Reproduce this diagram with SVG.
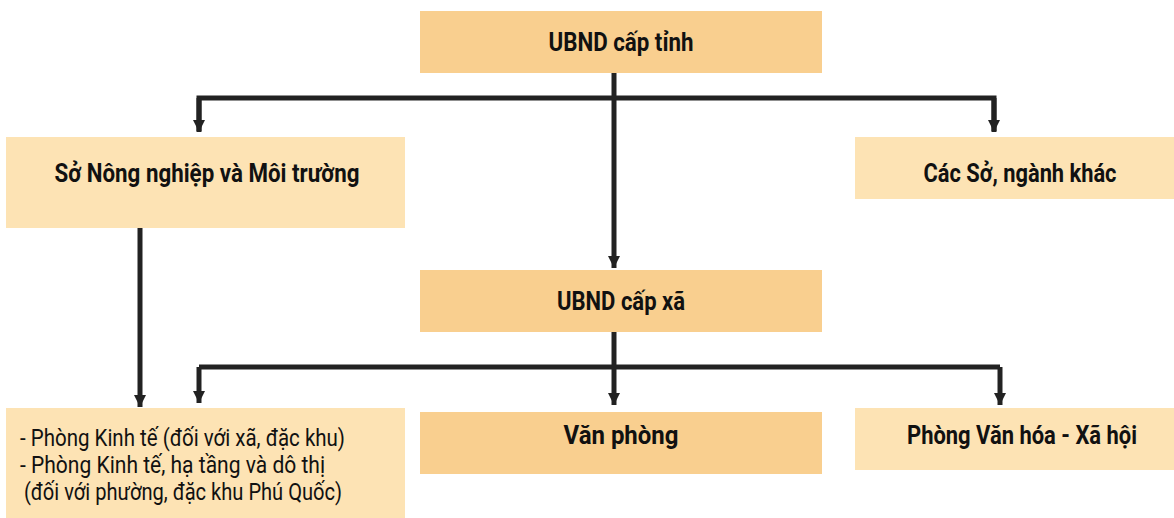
<svg xmlns="http://www.w3.org/2000/svg" width="1174" height="518" viewBox="0 0 1174 518">
<style>
.dark{fill:#F9CF8F}
.light{fill:#FDE3B4}
.t{font-family:"Roboto","Liberation Sans",sans-serif;font-weight:bold;font-size:25px;fill:#111;text-anchor:middle}
.r{font-family:"Roboto","Liberation Sans",sans-serif;font-size:24px;fill:#111}
.ln{stroke:#222;stroke-width:5;fill:none}
</style>
<defs>
<marker id="ah" viewBox="0 0 10 10" refX="10" refY="5" markerWidth="2.4" markerHeight="2.4" orient="auto" markerUnits="strokeWidth">
<path d="M0,0 L10,5 L0,10 Z" fill="#222"/>
</marker>
</defs>
<rect width="1174" height="518" fill="#fff"/>
<g id="connectors">
<path class="ln" d="M614,73 V268" marker-end="url(#ah)"/>
<path class="ln" d="M199,131 V98 H994 V131" />
<path class="ln" d="M199,98 V132" marker-end="url(#ah)"/>
<path class="ln" d="M994,98 V132" marker-end="url(#ah)"/>
<path class="ln" d="M199,367 H1000"/>
<path class="ln" d="M614,332 V405" marker-end="url(#ah)"/>
<path class="ln" d="M199,367 V403" marker-end="url(#ah)"/>
<path class="ln" d="M1000,367 V405" marker-end="url(#ah)"/>
<path class="ln" d="M140,228 V407" marker-end="url(#ah)"/>
</g>
<g id="n1"><rect class="dark" x="420" y="11" width="402" height="62"/><text class="t" x="621" y="51" textLength="145" lengthAdjust="spacingAndGlyphs">UBND cấp tỉnh</text></g>
<g id="n2"><rect class="light" x="6" y="137" width="399" height="91"/><text class="t" x="207" y="182" textLength="305" lengthAdjust="spacingAndGlyphs">Sở Nông nghiệp và Môi trường</text></g>
<g id="n3"><rect class="light" x="855" y="137" width="319" height="62"/><text class="t" x="1020" y="182" textLength="193" lengthAdjust="spacingAndGlyphs">Các Sở, ngành khác</text></g>
<g id="n4"><rect class="dark" x="420" y="270" width="402" height="62"/><text class="t" x="621" y="310" textLength="128" lengthAdjust="spacingAndGlyphs">UBND cấp xã</text></g>
<g id="n5"><rect class="light" x="6" y="408" width="399" height="110"/>
<text class="r" x="20" y="446" textLength="325" lengthAdjust="spacingAndGlyphs">- Phòng Kinh tế (đối với xã, đặc khu)</text>
<text class="r" x="20" y="473" textLength="305" lengthAdjust="spacingAndGlyphs">- Phòng Kinh tế, hạ tầng và dô thị</text>
<text class="r" x="24" y="500" textLength="318" lengthAdjust="spacingAndGlyphs">(đối với phường, đặc khu Phú Quốc)</text>
</g>
<g id="n6"><rect class="dark" x="420" y="412" width="402" height="62"/><text class="t" x="621" y="444" textLength="115" lengthAdjust="spacingAndGlyphs">Văn phòng</text></g>
<g id="n7"><rect class="light" x="855" y="408" width="319" height="62"/><text class="t" x="1022" y="444" textLength="230" lengthAdjust="spacingAndGlyphs">Phòng Văn hóa - Xã hội</text></g>
</svg>
